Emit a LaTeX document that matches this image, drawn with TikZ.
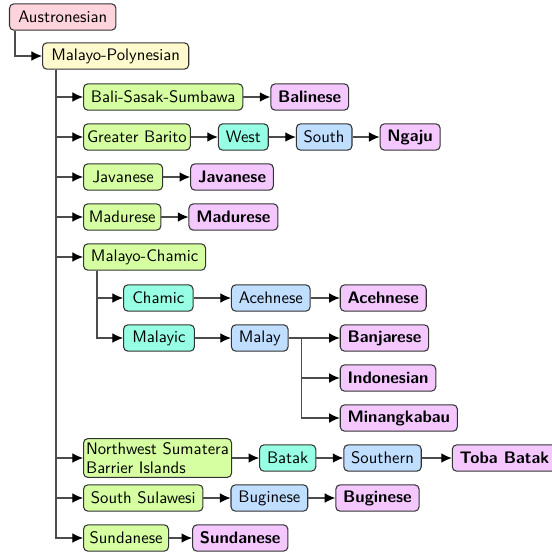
\documentclass[tikz,border=0pt]{standalone}
\usetikzlibrary{positioning,arrows.meta}
\definecolor{rootpink}{RGB}{255,212,220}
\definecolor{protoyellow}{RGB}{255,250,205}
\definecolor{branchgreen}{RGB}{214,255,162}
\definecolor{subteal}{RGB}{150,255,228}
\definecolor{groupblue}{RGB}{192,222,255}
\definecolor{leafviolet}{RGB}{244,200,255}
\tikzset{
  lang/.style={draw=black!80, rounded corners=2.5pt, line width=0.6pt,
    inner xsep=4.2pt, inner ysep=2pt, minimum height=15pt,
    font=\fontsize{9.5}{11.2}\selectfont\sffamily},
  root/.style={lang, fill=rootpink},
  proto/.style={lang, fill=protoyellow},
  branch/.style={lang, fill=branchgreen},
  sub/.style={lang, fill=subteal},
  group/.style={lang, fill=groupblue},
  leaf/.style={lang, fill=leafviolet, font=\fontsize{9.5}{11.2}\selectfont\sffamily\bfseries},
  link/.style={draw=black!70, line width=0.6pt, -{Latex[length=6pt,width=5.5pt,black]}},
}
\begin{document}
\begin{tikzpicture}[node distance=0.8cm and 0.54cm]
\useasboundingbox (0,0) rectangle (11.04,-11.02);
\node[root, inner xsep=5pt, anchor=west] (aus) at (0.18,-0.34) {Austronesian};
  \node[proto, inner xsep=5pt, below right=0.78cm and 0.66cm of aus.west, anchor=west] (mp) {Malayo-Polynesian};
  % branches of Malayo-Polynesian
  \node[branch, below right=0.82cm and 0.82cm of mp.west, anchor=west] (bss) {Bali-Sasak-Sumbawa};
  \node[branch, inner xsep=2pt, below=of bss.west, anchor=west] (gb) {Greater Barito};
  \node[branch, inner xsep=5pt, below=of gb.west, anchor=west] (jav) {Javanese};
  \node[branch, inner xsep=3pt, below=of jav.west, anchor=west] (mad) {Madurese};
  \node[branch, below=of mad.west, anchor=west] (mc) {Malayo-Chamic};
  \node[sub, inner xsep=5pt, below right=0.82cm and 0.8cm of mc.west, anchor=west] (cham) {Chamic};
  \node[sub, inner xsep=5pt, below=of cham.west, anchor=west] (mlyc) {Malayic};
  \node[branch, below=4.02cm of mc.west, anchor=west, align=left, inner xsep=1.5pt] (nw) {Northwest Sumatera\\Barrier Islands};
  \node[branch, below=of nw.west, anchor=west] (ss) {South Sulawesi};
  \node[branch, inner xsep=3.4pt, below=of ss.west, anchor=west] (sund) {Sundanese};
  % chains
  \node[leaf, right=of bss] (bal) {Balinese};
  \node[sub, right=of gb] (west) {West};
  \node[group, right=of west] (south) {South};
  \node[leaf, right=of south] (ngaju) {Ngaju};
  \node[leaf, right=of jav] (javl) {Javanese};
  \node[leaf, right=of mad] (madl) {Madurese};
  \node[group, right=0.72cm of mlyc] (malay) {Malay};
  \node[group, anchor=west] (aceg) at (malay.west |- cham) {Acehnese};
  \node[leaf, right=0.58cm of aceg] (acel) {Acehnese};
  \node[leaf, anchor=west] (banj) at (acel.west |- malay) {Banjarese};
  \node[leaf, below=of banj.west, anchor=west] (indo) {Indonesian};
  \node[leaf, below=of indo.west, anchor=west] (mina) {Minangkabau};
  \node[sub, right=of nw] (batak) {Batak};
  \node[group, right=of batak] (southern) {Southern};
  \node[leaf, right=0.6cm of southern] (toba) {Toba Batak};
  \node[group, right=of ss] (bugg) {Buginese};
  \node[leaf, right=of bugg] (bugl) {Buginese};
  \node[leaf, right=0.46cm of sund] (sundl) {Sundanese};
  % tree lines
  \draw[link] ([xshift=0.12cm]aus.south west) |- (mp.west);
  \foreach \c in {bss,gb,jav,mad,mc,nw,ss,sund}
    \draw[link] ([xshift=0.28cm]mp.south west) |- (\c.west);
  \foreach \c in {cham,mlyc}
    \draw[link] ([xshift=0.28cm]mc.south west) |- (\c.west);
  \foreach \c in {banj,indo,mina}
    \draw[link] (malay.east) -- ++(0.26,0) |- (\c.west);
  \draw[link] (bss) -- (bal);
  \draw[link] (gb) -- (west);
  \draw[link] (west) -- (south);
  \draw[link] (south) -- (ngaju);
  \draw[link] (jav) -- (javl);
  \draw[link] (mad) -- (madl);
  \draw[link] (cham) -- (aceg);
  \draw[link] (aceg) -- (acel);
  \draw[link] (mlyc) -- (malay);
  \draw[link] (nw) -- (batak);
  \draw[link] (batak) -- (southern);
  \draw[link] (southern) -- (toba);
  \draw[link] (ss) -- (bugg);
  \draw[link] (bugg) -- (bugl);
  \draw[link] (sund) -- (sundl);
\end{tikzpicture}
\end{document}
